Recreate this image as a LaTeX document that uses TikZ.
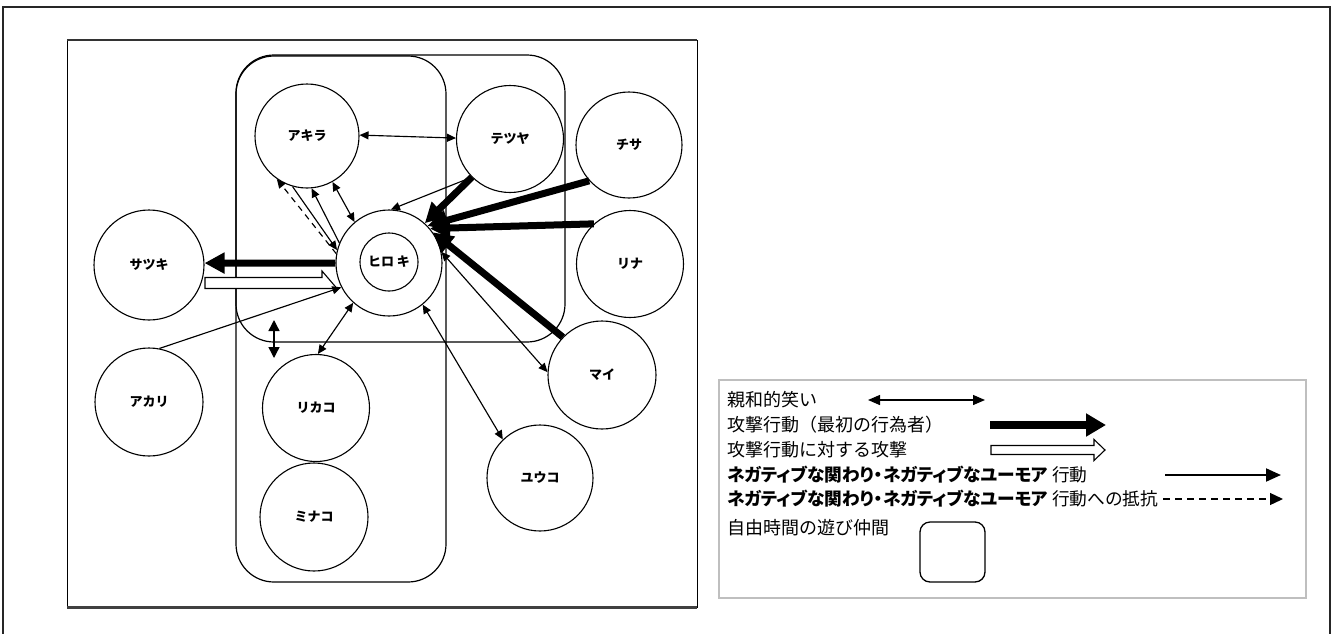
\documentclass[tikz,border=0pt]{standalone}
\usepackage{fontspec}
\usetikzlibrary{arrows.meta,calc}
\newfontfamily\jp[RawFeature=+palt]{Noto Sans CJK JP}
\newfontfamily\jpn{Noto Sans CJK JP}
\newcommand\nmfont{\jpn\bfseries\fontsize{13}{13}\selectfont}
\newcommand\lgfont{\jpn\fontsize{18}{19}\selectfont}
\newcommand\lgpfont{\jp\fontsize{17.7}{19}\selectfont}
\begin{document}
\begin{tikzpicture}[x=1pt,y=-1pt,
  person/.style={circle, draw, line width=1.1pt, minimum size=#1, inner sep=0pt, font=\nmfont},
  aff/.style={line width=1.15pt, {Triangle[length=9pt,width=8pt]}-{Triangle[length=9pt,width=8pt]}},
  neg/.style={line width=1.15pt, -{Triangle[length=9pt,width=8pt]}},
  res/.style={neg, dash pattern=on 6pt off 5pt},
  atk/.style={line width=7pt, -{Triangle[length=20pt,width=20pt]}},
  hollow/.style={line width=1.1pt, fill=white, line join=miter},
  grp/.style={rounded corners=38pt, line width=1.2pt},
  legtext/.style={anchor=west, font=\lgfont, inner sep=0pt},
  legptext/.style={anchor=west, font=\lgpfont, inner sep=0pt},
]
\clip (0,0) rectangle (1334,633);
% outer frame
\draw[line width=2.5pt, color=black!85] (3,645) -- (3,7) -- (1330,7) -- (1330,645);
% inner frame
\draw[line width=0.8pt] (67,40) rectangle (697,607);
\draw[line width=2.5pt, color=black!80] (67,40) -- (697,40);
\draw[line width=3pt, color=black!75] (67,607) -- (697,607);
% groups
\draw[grp] (236,56) rectangle (446,582);
\draw[grp] (236,55) rectangle (565,342);
% persons
\node[person=104] (akira) at (307,136) {アキラ};
\node[person=107] (tetsuya) at (510,139) {テツヤ};
\node[person=106] (chisa) at (629,145) {チサ};
\node[person=110] (satsuki) at (149,265) {サツキ};
\node[person=106] (hiroki) at (389,263) {};
\node[person=58] (hirokiin) at (389,262) {ヒロ キ};
\node[person=107] (rina) at (630,264) {リナ};
\node[person=108] (mai) at (602,375) {マイ};
\node[person=108] (akari) at (149,402) {アカリ};
\node[person=107] (rikako) at (316,408) {リカコ};
\node[person=108] (minako) at (314,517) {ミナコ};
\node[person=106] (yuko) at (540,478) {ユウコ};
% connectors
\draw[aff] (akira.1) -- (tetsuya.179);
\draw[neg] (tetsuya.225) -- (hiroki.88);
\draw[atk] (tetsuya.225) -- (hiroki.48);
\draw[atk] (chisa.222) -- (hiroki.44);
\draw[atk] (rina.132) -- (hiroki.40);
\draw[atk] (mai.136) -- (hiroki.35);
\draw[aff] (hiroki.12) -- (mai.177);
\draw[aff] (hiroki.-51) -- (yuko.134);
\draw[aff] (hiroki.-132) -- (rikako.88);
\draw[aff] (akira.-61) -- (hiroki.130);
\draw[neg] (akira.-106) -- (hiroki.166);
\draw[res] (hiroki.170) -- (akira.-125);
\draw[neg] (hiroki.158) -- (akira.-85);
\draw[atk] (hiroki.180) -- (satsuki.2);
\coordinate (hs) at ($(satsuki.center)+(56,12.5)$);
\draw[hollow] (hs) -- ++(117,0) -- ++(0,-6.5) -- ++(15,17.5) -- ++(-132,0) -- cycle;
\draw[neg] (akari.79) -- (hiroki.207);
\coordinate (va) at (274,320);
\coordinate (vb) at (274,358);
\draw[line width=1.4pt, {Triangle[length=11pt,width=11pt]}-{Triangle[length=11pt,width=11pt]}] (va) -- (vb);
% legend
\draw[line width=1.6pt, color=gray!50] (719,380) rectangle (1306,598);
\node[legtext] (t1) at (727,400) {親和的笑い};
\node[legtext] (t2) at (727,425) {攻撃行動（最初の行為者）};
\node[legtext] (t3) at (727,450) {攻撃行動に対する攻撃};
\node[legptext] (t4) at (727,475) {\bfseries ネガティブな関わり・ネガティブなユーモア\mdseries\ 行動};
\node[legptext] (t5) at (727,499) {\bfseries ネガティブな関わり・ネガティブなユーモア\mdseries\ 行動への抵抗};
\node[legtext] (t6) at (727,528) {自由時間の遊び仲間};
\coordinate (l1a) at (868,400); \coordinate (l1b) at (985,400);
\draw[line width=1.3pt, {Triangle[length=12pt,width=10pt]}-{Triangle[length=12pt,width=10pt]}] (l1a) -- (l1b);
\coordinate (l2a) at (990,425); \coordinate (l2b) at (1106,425);
\draw[line width=8pt, -{Triangle[length=20pt,width=22pt]}] (l2a) -- (l2b);
\coordinate (l3a) at (991,450);
\draw[hollow] ($(l3a)+(0,-4.5)$) -- ++(103,0) -- ++(0,-6) -- ++(11,10.5) -- ++(-11,10.5) -- ++(0,-6) -- ++(-103,0) -- cycle;
\coordinate (l4a) at (1165,475); \coordinate (l4b) at (1281,475);
\draw[line width=2pt, -{Triangle[length=15pt,width=13pt]}] (l4a) -- (l4b);
\coordinate (l5a) at (1163,499); \coordinate (l5b) at (1283,499);
\draw[line width=1.3pt, dash pattern=on 7pt off 5pt, -{Triangle[length=13pt,width=12pt]}] (l5a) -- (l5b);
\draw[rounded corners=10pt, line width=1.3pt] (920,522) rectangle (985,582);
\end{tikzpicture}
\end{document}
